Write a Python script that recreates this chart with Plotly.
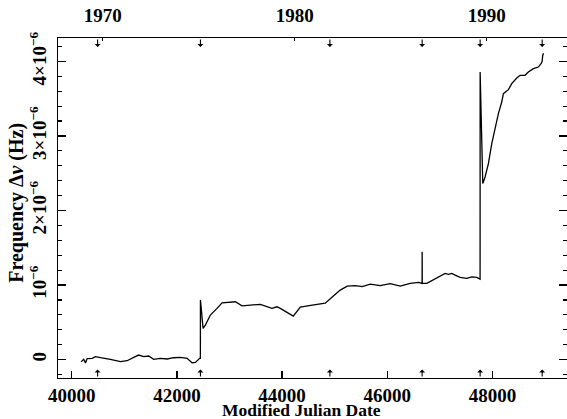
import plotly.graph_objects as go

# Crab-like pulsar frequency residual (units of 1e-6 Hz)
mjd = [40179, 40228, 40260, 40293, 40388, 40450, 40545, 40735, 40925, 41053,
       41178, 41273, 41368, 41463, 41558, 41685, 41813, 41938, 42066, 42193,
       42288, 42351, 42432, 42446, 42447, 42497, 42541, 42636, 42763, 42858,
       43111, 43238, 43586, 43808, 43903, 43966, 44213, 44346, 44574, 44821,
       44954, 45106, 45239, 45391, 45524, 45676, 45866, 46056, 46246, 46436,
       46594, 46658, 46663, 46664, 46666, 46753, 46879, 47006, 47101, 47164,
       47228, 47291, 47386, 47513, 47608, 47703, 47766, 47767, 47817, 47861,
       47924, 47988, 48051, 48114, 48178, 48209, 48304, 48368, 48463, 48526,
       48621, 48684, 48779, 48874, 48925, 48946, 48957, 48972]
dnu = [-0.03, 0.003, -0.047, 0.013, 0.016, 0.038, 0.024, 0.003, -0.029, -0.016,
       0.029, 0.060, 0.038, 0.047, 0.003, 0.016, 0.007, 0.024, 0.029, 0.016,
       -0.043, -0.038, 0.016, 0.016, 0.80, 0.418, 0.462, 0.597, 0.686, 0.761,
       0.775, 0.721, 0.740, 0.686, 0.708, 0.686, 0.583, 0.704, 0.731, 0.757,
       0.838, 0.932, 0.985, 0.992, 0.979, 1.012, 0.992, 1.019, 0.985, 1.021,
       1.035, 1.021, 1.021, 1.445, 1.021, 1.021, 1.066, 1.110, 1.155, 1.142,
       1.155, 1.133, 1.102, 1.088, 1.110, 1.102, 1.079, 3.858, 2.362, 2.450,
       2.630, 2.898, 3.121, 3.300, 3.456, 3.568, 3.622, 3.702, 3.777, 3.814,
       3.814, 3.858, 3.903, 3.925, 3.971, 4.00, 4.08, 4.11]

glitch_mjd = [40491, 42447, 44909, 46664, 47767, 48947]

years = [1970, 1980, 1990]
year_mjd = [40587, 44239, 47892]

y_tickvals = [0, 1, 2, 3, 4]
y_ticktext = ["0", "10<sup>−6</sup>", "2×10<sup>−6</sup>",
              "3×10<sup>−6</sup>", "4×10<sup>−6</sup>"]

FONT = "Liberation Serif"
W, H = 567, 419
L, R, T, B = 57.5, 0, 37.5, 41

fig = go.Figure()
fig.add_trace(go.Scatter(x=mjd, y=dnu, mode="lines",
                         line=dict(color="black", width=1.3),
                         showlegend=False, hoverinfo="skip"))
fig.add_trace(go.Scatter(x=[year_mjd[0]], y=[0], xaxis="x2", mode="markers",
                         marker=dict(opacity=0), showlegend=False,
                         hoverinfo="skip"))

xr = [39738, 49419]
yr = [-0.248, 4.315]

annotations = []
ph = H - T - B
for g in glitch_mjd:
    annotations.append(dict(x=g, xref="x", y=8.5 / ph, yref="paper", text="",
                            showarrow=True, ax=0, ay=8.5, arrowhead=1,
                            arrowsize=0.9, arrowwidth=1.1, arrowcolor="black"))
    annotations.append(dict(x=g, xref="x", y=1 - 9 / ph, yref="paper", text="",
                            showarrow=True, ax=0, ay=-9, arrowhead=1,
                            arrowsize=0.9, arrowwidth=1.1, arrowcolor="black"))

annotations.append(dict(x=(301 - L) / (W - L - R), xref="paper",
                        y=-(410.5 - (H - B)) / ph, yref="paper",
                        text="<b>Modified Julian Date</b>", showarrow=False,
                        xanchor="center", yanchor="middle",
                        font=dict(family=FONT, size=17.5, color="black")))
annotations.append(dict(x=(16 - L) / (W - L - R), xref="paper",
                        y=((H - B) - 203) / ph, yref="paper",
                        text="<b>Frequency Δ<i>ν</i> (Hz)</b>", showarrow=False,
                        textangle=-90, xanchor="center", yanchor="middle",
                        font=dict(family=FONT, size=20, color="black")))

tickfont = dict(family=FONT, size=19, color="black")

fig.update_layout(
    width=W, height=H,
    margin=dict(l=L, r=R, t=T, b=B, pad=0, autoexpand=False),
    paper_bgcolor="white", plot_bgcolor="white",
    font=dict(family=FONT, color="black"),
    xaxis=dict(range=xr, showgrid=False, zeroline=False,
               showline=True, linecolor="black", linewidth=1.3, mirror=True,
               ticks="inside", ticklen=7, tickwidth=1.2, tickcolor="black",
               tick0=40000, dtick=2000, tickformat="d",
               tickprefix="<b>", ticksuffix="</b>",
               tickfont=tickfont, ticklabelstandoff=0),
    xaxis2=dict(range=xr, overlaying="x", side="top", showgrid=False,
                zeroline=False, showline=False,
                tickmode="array", tickvals=year_mjd,
                ticktext=["<b>%d</b>" % y for y in years],
                ticks="inside", ticklen=3, tickwidth=1.2, tickcolor="black",
                tickfont=tickfont, ticklabelstandoff=11),
    yaxis=dict(range=yr, showgrid=False, zeroline=False,
               showline=True, linecolor="black", linewidth=1.3, mirror="ticks",
               ticks="inside", ticklen=8, tickwidth=1.2, tickcolor="black",
               tickmode="array", tickvals=y_tickvals,
               ticktext=["<b>%s</b>" % t for t in y_ticktext],
               tickangle=-90, tickfont=tickfont, ticklabelstandoff=3,
               minor=dict(tick0=0, dtick=0.2, ticks="inside", ticklen=4,
                          tickwidth=1.2, tickcolor="black")),
    annotations=annotations,
)

fig.write_html("out.html",
               config={"displayModeBar": False, "staticPlot": True},
               post_script="document.body.style.margin='0';"
                           "document.body.style.padding='0';"
                           "document.body.style.overflow='hidden';")
